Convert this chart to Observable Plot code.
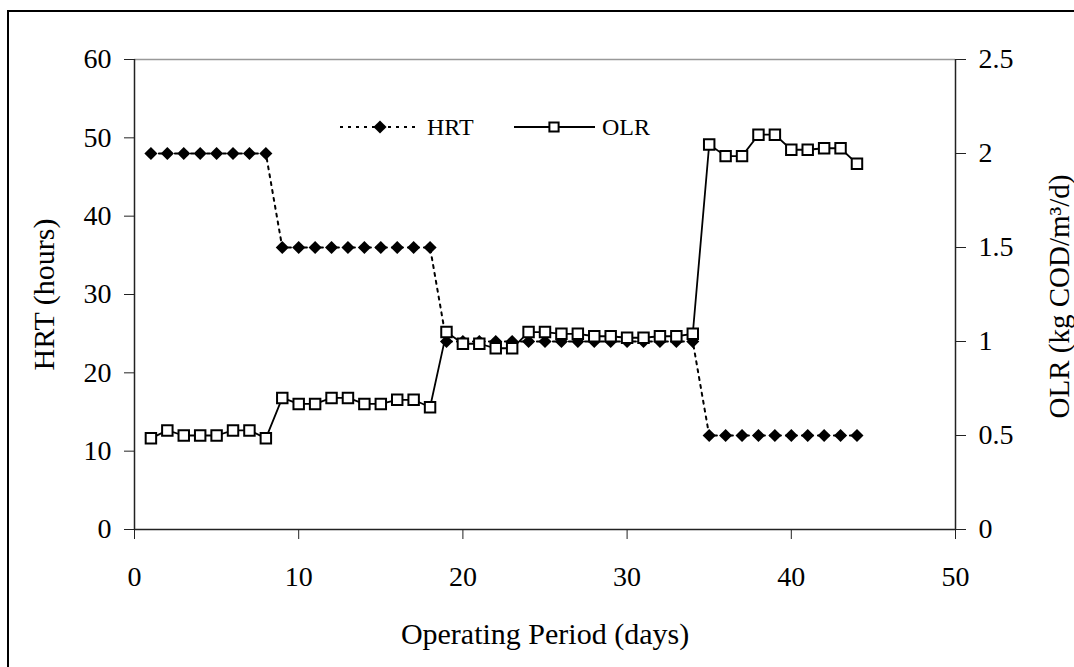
<!DOCTYPE html>
<html>
<head>
<meta charset="utf-8">
<script src="https://cdn.jsdelivr.net/npm/d3@7"></script>
<script src="https://cdn.jsdelivr.net/npm/@observablehq/plot@0.6"></script>
<style>
  html, body { margin: 0; padding: 0; background: #fff; overflow: hidden; width: 1074px; height: 667px; }
  #wrap { position: relative; width: 1074px; height: 667px; }
  #frame { position: absolute; left: 7px; top: 10px; width: 1200px; height: 800px; border-left: 2px solid #000; border-top: 2px solid #000; }
  #chart { position: absolute; left: 0; top: 0; }
  #legend { position: absolute; left: 0; top: 0; }
</style>
</head>
<body>
<div id="wrap">
  <div id="frame"></div>
  <div id="chart"></div>
  <svg id="legend" width="1074" height="667"></svg>
</div>
<script>
// ---- data ----
const days = [1,2,3,4,5,6,7,8,9,10,11,12,13,14,15,16,17,18,19,20,21,22,23,24,25,26,27,28,29,30,31,32,33,34,35,36,37,38,39,40,41,42,43,44];
const hrt = [48,48,48,48,48,48,48,48,
             36,36,36,36,36,36,36,36,36,36,
             24,24,24,24,24,24,24,24,24,24,24,24,24,24,24,24,
             12,12,12,12,12,12,12,12,12,12];
const olr = [0.485,0.527,0.50,0.50,0.50,0.527,0.527,0.485,
             0.70,0.668,0.668,0.70,0.70,0.668,0.668,0.69,0.69,0.65,
             1.05,0.988,0.988,0.964,0.964,1.05,1.05,1.041,1.041,1.028,1.028,1.02,1.02,1.028,1.028,1.041,
             2.048,1.986,1.986,2.10,2.10,2.02,2.02,2.028,2.028,1.945];
const xTicks = [0,10,20,30,40,50];
const hrtTicks = [0,10,20,30,40,50,60];
const olrTicks = [0,0.5,1,1.5,2,2.5];
const xDomain = [0,50];
const hrtDomain = [0,60];
const olrDomain = [0,2.5];
const xTitle = "Operating Period (days)";
const hrtTitle = "HRT (hours)";
const olrTitle = "OLR (kg COD/m\u00B3/d)";
const seriesNames = ["HRT", "OLR"];

// OLR is drawn on the HRT scale through a fixed ratio of the two axis domains
const k = hrtDomain[1] / olrDomain[1];
const rows = days.map((d, i) => ({day: d, hrt: hrt[i], olr: olr[i], olrY: olr[i] * k}));

const font = "'Liberation Serif', 'Times New Roman', serif";
const axisColor = "#222";

const chart = Plot.plot({
  width: 1074,
  height: 667,
  marginLeft: 134,
  marginRight: 119,
  marginTop: 59,
  marginBottom: 138,
  style: {fontFamily: font, fontSize: "28px", color: "#000", background: "transparent", overflow: "visible"},
  x: {domain: xDomain},
  y: {domain: hrtDomain},
  marks: [
    Plot.ruleY([hrtDomain[1]], {stroke: "#999", strokeWidth: 1.5}),
    Plot.axisY({anchor: "left", ticks: hrtTicks, tickSize: 10, tickPadding: 13, label: null, fontSize: 28, stroke: axisColor}),
    Plot.axisY({anchor: "right", ticks: olrTicks.map(v => v * k), tickFormat: v => d3.format("~g")(v / k), tickSize: 10, tickPadding: 13, label: null, fontSize: 28, stroke: axisColor}),
    Plot.axisX({anchor: "bottom", ticks: xTicks, tickSize: 10, tickPadding: 27, label: null, fontSize: 28, stroke: axisColor}),
    Plot.ruleX([xDomain[0]], {stroke: axisColor, strokeWidth: 1.5}),
    Plot.ruleX([xDomain[1]], {stroke: axisColor, strokeWidth: 1.5}),
    Plot.ruleY([hrtDomain[0]], {stroke: axisColor, strokeWidth: 1.5}),
    Plot.line(rows, {x: "day", y: "hrt", stroke: "#000", strokeWidth: 2, strokeDasharray: "3,5"}),
    Plot.dot(rows, {x: "day", y: "hrt", symbol: "diamond2", r: 5.9, fill: "#000", stroke: null}),
    Plot.line(rows, {x: "day", y: "olrY", stroke: "#000", strokeWidth: 1.8}),
    Plot.dot(rows, {x: "day", y: "olrY", symbol: "square", r: 5.9, fill: "#fff", stroke: "#000", strokeWidth: 2}),
    Plot.text([hrtTitle], {frameAnchor: "left", textAnchor: "middle", lineAnchor: "middle", dx: -90, rotate: -90, fontSize: 30, fill: "#000", fontFamily: font}),
    Plot.text([olrTitle], {frameAnchor: "right", textAnchor: "middle", lineAnchor: "middle", dx: 104, dy: 2, rotate: -90, fontSize: 29, fill: "#000", fontFamily: font}),
    Plot.text([xTitle], {frameAnchor: "bottom", textAnchor: "middle", lineAnchor: "middle", dy: 105, fontSize: 30, fill: "#000", fontFamily: font})
  ]
});
document.getElementById("chart").appendChild(chart);

// ---- legend (inside plot area) ----
const lg = d3.select("#legend");
const ly = 127;
// HRT entry
lg.append("line").attr("x1", 340).attr("x2", 418).attr("y1", ly).attr("y2", ly)
  .attr("stroke", "#000").attr("stroke-width", 2).attr("stroke-dasharray", "3,5");
lg.append("path").attr("d", d3.symbol(d3.symbolDiamond2, 5.9 * 5.9 * Math.PI)())
  .attr("transform", `translate(380,${ly})`).attr("fill", "#000");
lg.append("text").attr("x", 427).attr("y", ly).attr("dy", "0.35em")
  .attr("font-family", font).attr("font-size", 24).text(seriesNames[0]);
// OLR entry
lg.append("line").attr("x1", 514).attr("x2", 595).attr("y1", ly).attr("y2", ly)
  .attr("stroke", "#000").attr("stroke-width", 1.8);
lg.append("path").attr("d", d3.symbol(d3.symbolSquare, 5.2 * 5.2 * Math.PI)())
  .attr("transform", `translate(554,${ly})`).attr("fill", "#fff").attr("stroke", "#000").attr("stroke-width", 2);
lg.append("text").attr("x", 602).attr("y", ly).attr("dy", "0.35em")
  .attr("font-family", font).attr("font-size", 24).text(seriesNames[1]);
</script>
</body>
</html>
